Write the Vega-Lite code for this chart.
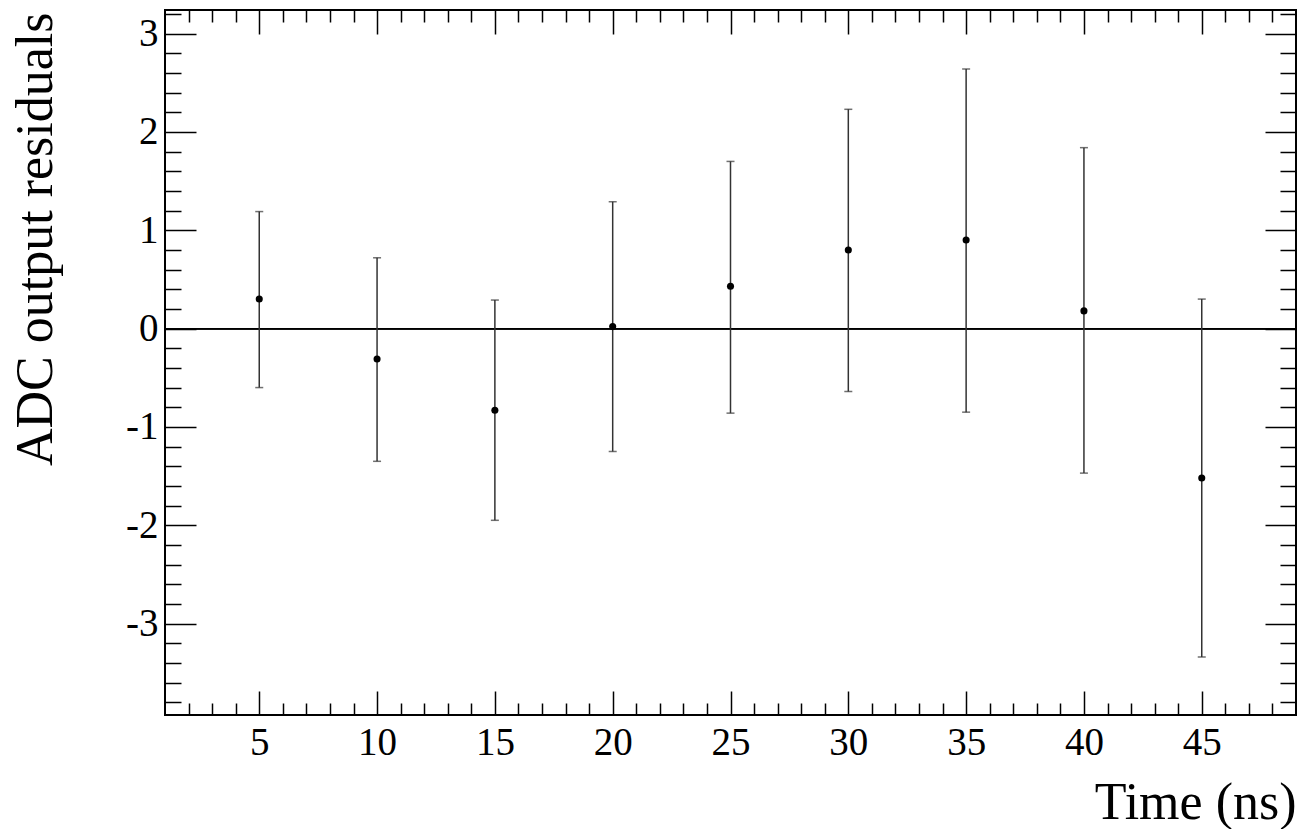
{
  "$schema": "https://vega.github.io/schema/vega-lite/v6.json",
  "width": 1131,
  "height": 705,
  "autosize": {"type": "none"},
  "padding": {"left": 165, "top": 10, "right": 3, "bottom": 114},
  "background": "white",
  "config": {
    "view": {"stroke": "black", "strokeWidth": 2},
    "axis": {
      "labelFont": "Liberation Serif",
      "titleFont": "Liberation Serif",
      "labelColor": "black",
      "titleColor": "black",
      "tickColor": "black",
      "domain": false,
      "grid": false,
      "labelFontWeight": "normal",
      "titleFontWeight": "normal"
    }
  },
  "data": {
    "values": [
      {"t": 5, "v": 0.30, "lo": -0.60, "hi": 1.19},
      {"t": 10, "v": -0.31, "lo": -1.35, "hi": 0.72},
      {"t": 15, "v": -0.83, "lo": -1.95, "hi": 0.29},
      {"t": 20, "v": 0.02, "lo": -1.25, "hi": 1.29},
      {"t": 25, "v": 0.43, "lo": -0.86, "hi": 1.70},
      {"t": 30, "v": 0.80, "lo": -0.64, "hi": 2.23},
      {"t": 35, "v": 0.90, "lo": -0.85, "hi": 2.64},
      {"t": 40, "v": 0.18, "lo": -1.47, "hi": 1.84},
      {"t": 45, "v": -1.52, "lo": -3.34, "hi": 0.30}
    ]
  },
  "layer": [
    {
      "mark": {"type": "rule", "color": "black", "strokeWidth": 1.2},
      "encoding": {
        "x": {"datum": 1, "type": "quantitative", "scale": {"domain": [1, 49], "nice": false, "zero": false},
              "axis": {"orient": "top", "labels": false, "title": null, "tickSize": -12, "tickWidth": 1.5, "values": [2,3,4,6,7,8,9,11,12,13,14,16,17,18,19,21,22,23,24,26,27,28,29,31,32,33,34,36,37,38,39,41,42,43,44,46,47,48]}},
        "x2": {"datum": 49},
        "y": {"datum": 0, "type": "quantitative", "scale": {"domain": [-3.93, 3.24], "nice": false, "zero": false},
              "axis": {"orient": "right", "labels": false, "title": null, "tickSize": -16, "tickWidth": 1.5, "values": [-3.8,-3.6,-3.4,-3.2,-2.8,-2.6,-2.4,-2.2,-1.8,-1.6,-1.4,-1.2,-0.8,-0.6,-0.4,-0.2,0.2,0.4,0.6,0.8,1.2,1.4,1.6,1.8,2.2,2.4,2.6,2.8,3.2]}}
      }
    },
    {
      "mark": {"type": "rule", "color": "#333333", "strokeWidth": 1.5},
      "encoding": {
        "x": {"field": "t", "type": "quantitative", "scale": {"domain": [1, 49], "nice": false, "zero": false},
              "axis": {"orient": "bottom", "labels": false, "title": null, "tickSize": -24, "tickWidth": 1.5, "values": [5,10,15,20,25,30,35,40,45]}},
        "y": {"field": "lo", "type": "quantitative", "scale": {"domain": [-3.93, 3.24], "nice": false, "zero": false},
              "axis": {"orient": "left", "labels": false, "title": null, "tickSize": -31, "tickWidth": 1.5, "values": [-3,-2,-1,0,1,2,3]}},
        "y2": {"field": "hi"}
      }
    },
    {
      "mark": {"type": "tick", "orient": "horizontal", "color": "#333333", "size": 8, "thickness": 1.5},
      "encoding": {
        "x": {"field": "t", "type": "quantitative", "scale": {"domain": [1, 49], "nice": false, "zero": false},
              "axis": {"orient": "bottom", "labels": false, "title": null, "tickSize": -12, "tickWidth": 1.5, "values": [2,3,4,6,7,8,9,11,12,13,14,16,17,18,19,21,22,23,24,26,27,28,29,31,32,33,34,36,37,38,39,41,42,43,44,46,47,48]}},
        "y": {"field": "lo", "type": "quantitative", "scale": {"domain": [-3.93, 3.24], "nice": false, "zero": false},
              "axis": {"orient": "left", "labels": false, "title": null, "tickSize": -16, "tickWidth": 1.5, "values": [-3.8,-3.6,-3.4,-3.2,-2.8,-2.6,-2.4,-2.2,-1.8,-1.6,-1.4,-1.2,-0.8,-0.6,-0.4,-0.2,0.2,0.4,0.6,0.8,1.2,1.4,1.6,1.8,2.2,2.4,2.6,2.8,3.2]}}
      }
    },
    {
      "mark": {"type": "tick", "orient": "horizontal", "color": "#333333", "size": 8, "thickness": 1.5},
      "encoding": {
        "x": {"field": "t", "type": "quantitative", "scale": {"domain": [1, 49], "nice": false, "zero": false},
              "axis": {"orient": "top", "labels": false, "title": null, "tickSize": -24, "tickWidth": 1.5, "values": [5,10,15,20,25,30,35,40,45]}},
        "y": {"field": "hi", "type": "quantitative", "scale": {"domain": [-3.93, 3.24], "nice": false, "zero": false},
              "axis": {"orient": "right", "labels": false, "title": null, "tickSize": -31, "tickWidth": 1.5, "values": [-3,-2,-1,0,1,2,3]}}
      }
    },
    {
      "mark": {"type": "point", "filled": true, "color": "black", "opacity": 1, "size": 50},
      "encoding": {
        "x": {"field": "t", "type": "quantitative", "scale": {"domain": [1, 49], "nice": false, "zero": false},
              "axis": {"orient": "bottom", "ticks": false, "tickSize": 0, "labelPadding": 8, "labelFontSize": 39, "values": [5,10,15,20,25,30,35,40,45],
                       "title": "Time (ns)", "titleFontSize": 52, "titleAlign": "right", "titleAnchor": "end", "titleBaseline": "alphabetic", "titleX": 1131, "titleY": 103}},
        "y": {"field": "v", "type": "quantitative", "scale": {"domain": [-3.93, 3.24], "nice": false, "zero": false},
              "axis": {"orient": "left", "ticks": false, "tickSize": 0, "labelPadding": 7, "labelFontSize": 39, "values": [-3,-2,-1,0,1,2,3],
                       "labelExpr": "toString(datum.value)",
                       "title": "ADC output residuals", "titleFontSize": 52, "titleAngle": -90, "titleAlign": "right", "titleAnchor": "end", "titleBaseline": "alphabetic", "titleX": -114, "titleY": 2}}
      }
    }
  ],
  "resolve": {"axis": {"x": "independent", "y": "independent"}}
}
